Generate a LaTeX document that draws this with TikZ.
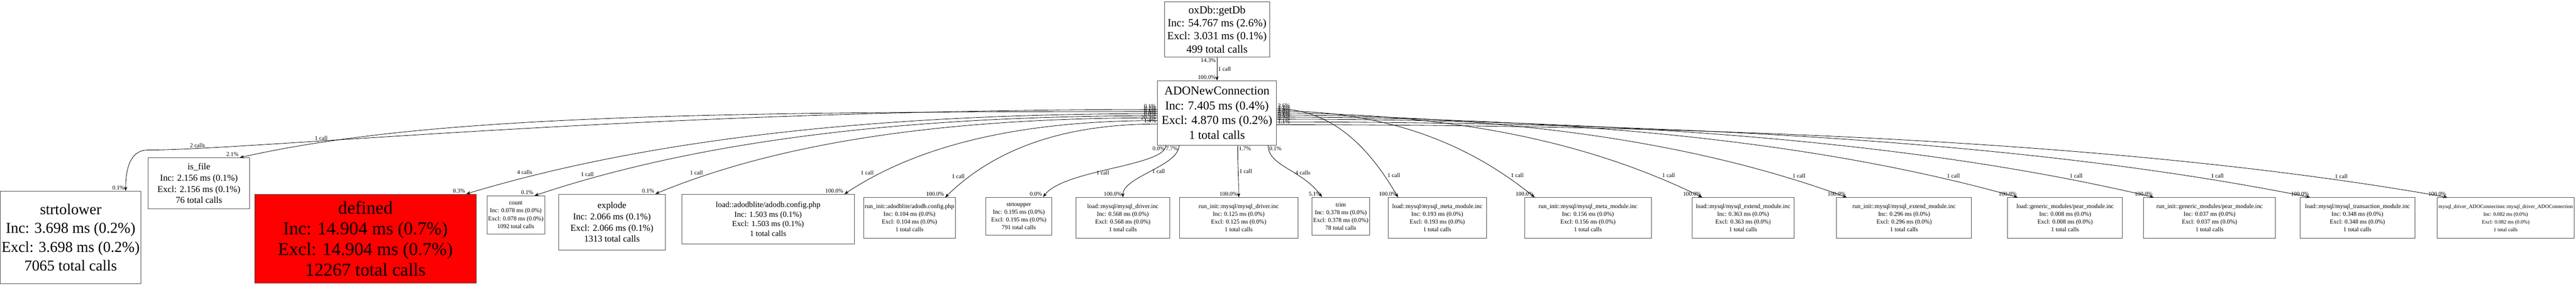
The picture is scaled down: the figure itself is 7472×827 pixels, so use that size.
\documentclass[tikz,border=0pt]{standalone}
\usepackage{fontspec}
\setmainfont{Liberation Serif}
\usetikzlibrary{positioning,calc,arrows.meta}

\begin{document}
\begin{tikzpicture}[x=0.01cm, y=-0.01cm,
    fn/.style = {draw=black!70, line width=0.4pt, align=center, inner sep=1pt},
    fnmain/.style = {fn, font=\fontsize{10}{12.2}\selectfont},
    fnbig/.style = {fn, font=\fontsize{12.5}{15.5}\selectfont},
    fnhot/.style = {fn, fill=red, font=\fontsize{15}{17}\selectfont},
    fnmid/.style = {fn, font=\fontsize{7.5}{9.2}\selectfont},
    fnsmall/.style = {fn, font=\fontsize{6.5}{8}\selectfont},
    fntiny/.style = {fn, font=\fontsize{5}{6.4}\selectfont},
    call/.style = {draw, line width=0.35pt, -{Stealth[length=3.5pt,width=2.6pt]}},
    lbl/.style = {font=\fontsize{4.8}{5.8}\selectfont, inner sep=0.8pt}]

	\useasboundingbox (0,0) rectangle (7472,827);

	% caller chain
	\node (getdb) [fn, font=\fontsize{9}{10.8}\selectfont, minimum width=3.05cm, minimum height=1.6cm] at (3530,85) {oxDb::getDb\\Inc: 54.767 ms (2.6\%)\\Excl: 3.031 ms (0.1\%)\\499 total calls};
	\node (ado) [fnmain, minimum width=3.45cm, minimum height=1.86cm] at (3530,327) {ADONewConnection\\Inc: 7.405 ms (0.4\%)\\Excl: 4.870 ms (0.2\%)\\1 total calls};

	% callees
	\node (strtolower) [fnbig, minimum width=4.05cm, minimum height=2.67cm] at (205,687) {strtolower\\Inc: 3.698 ms (0.2\%)\\Excl: 3.698 ms (0.2\%)\\7065 total calls};
	\node (isfile) [fnmid, minimum width=2.95cm, minimum height=1.48cm] at (577,531) {is\_file\\Inc: 2.156 ms (0.1\%)\\Excl: 2.156 ms (0.1\%)\\76 total calls};
	\node (defined) [fnhot, minimum width=6.43cm, minimum height=2.58cm] at (1060,691) {defined\\Inc: 14.904 ms (0.7\%)\\Excl: 14.904 ms (0.7\%)\\12267 total calls};
	\node (count) [fntiny, minimum width=1.52cm, minimum height=1.1cm] at (1496,622) {count\\Inc: 0.078 ms (0.0\%)\\Excl: 0.078 ms (0.0\%)\\1092 total calls};
	\node (explode) [fnmid, minimum width=3.1cm, minimum height=1.62cm] at (1775,643) {explode\\Inc: 2.066 ms (0.1\%)\\Excl: 2.066 ms (0.1\%)\\1313 total calls};
	\node (loadcfg) [fnsmall, minimum width=5.01cm, minimum height=1.43cm] at (2228,634) {load::adodblite/adodb.config.php\\Inc: 1.503 ms (0.1\%)\\Excl: 1.503 ms (0.1\%)\\1 total calls};
	\node (initcfg) [fntiny, minimum width=2.53cm, minimum height=1.18cm] at (2638,631) {run\_init::adodblite/adodb.config.php\\Inc: 0.104 ms (0.0\%)\\Excl: 0.104 ms (0.0\%)\\1 total calls};
	\node (strtoupper) [fntiny, minimum width=1.9cm, minimum height=1.1cm] at (2955,626) {strtoupper\\Inc: 0.195 ms (0.0\%)\\Excl: 0.195 ms (0.0\%)\\791 total calls};
	\node (loaddrv) [fntiny, minimum width=2.72cm, minimum height=1.18cm] at (3257,631) {load::mysql/mysql\_driver.inc\\Inc: 0.568 ms (0.0\%)\\Excl: 0.568 ms (0.0\%)\\1 total calls};
	\node (initdrv) [fntiny, minimum width=3.43cm, minimum height=1.18cm] at (3593,631) {run\_init::mysql/mysql\_driver.inc\\Inc: 0.125 ms (0.0\%)\\Excl: 0.125 ms (0.0\%)\\1 total calls};
	\node (trim) [fntiny, minimum width=1.53cm, minimum height=1.1cm] at (3889,626) {trim\\Inc: 0.378 ms (0.0\%)\\Excl: 0.378 ms (0.0\%)\\78 total calls};
	\node (loadmeta) [fntiny, minimum width=2.86cm, minimum height=1.18cm] at (4169,631) {load::mysql/mysql\_meta\_module.inc\\Inc: 0.193 ms (0.0\%)\\Excl: 0.193 ms (0.0\%)\\1 total calls};
	\node (initmeta) [fntiny, minimum width=3.67cm, minimum height=1.18cm] at (4606,631) {run\_init::mysql/mysql\_meta\_module.inc\\Inc: 0.156 ms (0.0\%)\\Excl: 0.156 ms (0.0\%)\\1 total calls};
	\node (loadext) [fntiny, minimum width=2.95cm, minimum height=1.18cm] at (5056,631) {load::mysql/mysql\_extend\_module.inc\\Inc: 0.363 ms (0.0\%)\\Excl: 0.363 ms (0.0\%)\\1 total calls};
	\node (initext) [fntiny, minimum width=3.91cm, minimum height=1.18cm] at (5523,631) {run\_init::mysql/mysql\_extend\_module.inc\\Inc: 0.296 ms (0.0\%)\\Excl: 0.296 ms (0.0\%)\\1 total calls};
	\node (loadgen) [fntiny, minimum width=3.33cm, minimum height=1.18cm] at (5990,631) {load::generic\_modules/pear\_module.inc\\Inc: 0.008 ms (0.0\%)\\Excl: 0.008 ms (0.0\%)\\1 total calls};
	\node (initgen) [fntiny, minimum width=3.82cm, minimum height=1.18cm] at (6409,631) {run\_init::generic\_modules/pear\_module.inc\\Inc: 0.037 ms (0.0\%)\\Excl: 0.037 ms (0.0\%)\\1 total calls};
	\node (loadtrans) [fntiny, minimum width=3.33cm, minimum height=1.18cm] at (6838,631) {load::mysql/mysql\_transaction\_module.inc\\Inc: 0.348 ms (0.0\%)\\Excl: 0.348 ms (0.0\%)\\1 total calls};
	\node (mysqlconn) [fntiny, font=\fontsize{4.3}{6.4}\selectfont, minimum width=3.62cm, minimum height=1.18cm] at (7268,631) {mysql\_driver\_ADOConnection::mysql\_driver\_ADOConnection\\Inc: 0.082 ms (0.0\%)\\Excl: 0.082 ms (0.0\%)\\1 total calls};

	% calls
	\draw[call] (getdb) -- (ado)
		node[lbl, at start, anchor=north east] {14.3\%}
		node[lbl, midway, right] {1 call}
		node[lbl, at end, anchor=south east] {100.0\%};

	% strtolower goes round is_file
	\coordinate (s) at ($(ado.west)+(0,-10)$);
	\coordinate (w) at ($(isfile.north west)+(0,-22)$);
	\coordinate (e) at ($(strtolower.north east)+(-45,0)$);
	\draw[call] (s) .. controls ($(s)!0.5!(s-|w)$) and ($(w)+(300,0)$) .. (w)
			node[lbl, pos=0.88, anchor=south] {2 calls}
			node[lbl, at start, anchor=south east] {0.1\%}
		.. controls ($(w)+(-55,0)$) and ($(e)+(0,-55)$) .. (e)
			node[lbl, at end, anchor=south east] {0.1\%};

	\foreach \c/\dy/\n/\t/\h in {isfile/-4/1 call/0.2\%/2.1\%,
	                             defined/2/4 calls/0.1\%/0.3\%,
	                             count/8/1 call/0.0\%/0.1\%,
	                             explode/14/1 call/0.0\%/0.1\%,
	                             loadcfg/22/1 call/20.3\%/100.0\%,
	                             initcfg/32/1 call/1.4\%/100.0\%}{
		\coordinate (s) at ($(ado.west)+(0,\dy)$);
		\coordinate (e) at ($(\c.north east)+(-30,0)$);
		\draw[call] (s) .. controls ($(s)!0.5!(s-|e)$) and ($(e)!0.2!(s|-e)+(0,-120)$) .. (e)
			node[lbl, pos=0.85, anchor=south east] {\n}
			node[lbl, at start, anchor=south east] {\t}
			node[lbl, at end, anchor=south east] {\h};
	}

	\foreach \c/\dy/\n/\t/\h in {loadmeta/-12/1 call/2.6\%/100.0\%,
	                             initmeta/-6/1 call/2.1\%/100.0\%,
	                             loadext/0/1 call/4.9\%/100.0\%,
	                             initext/6/1 call/4.0\%/100.0\%,
	                             loadgen/12/1 call/0.1\%/100.0\%,
	                             initgen/18/1 call/0.5\%/100.0\%,
	                             loadtrans/26/1 call/4.7\%/100.0\%,
	                             mysqlconn/34/1 call/1.1\%/100.0\%}{
		\coordinate (s) at ($(ado.east)+(0,\dy)$);
		\coordinate (e) at ($(\c.north west)+(30,0)$);
		\draw[call] (s) .. controls ($(s)!0.5!(s-|e)$) and ($(e)!0.2!(s|-e)+(0,-120)$) .. (e)
			node[lbl, pos=0.85, anchor=south west] {\n}
			node[lbl, at start, anchor=south west] {\t}
			node[lbl, at end, anchor=south east] {\h};
	}

	\draw[call] ($(ado.south west)+(25,0)$) .. controls +(0,60) and +(60,-80) .. ($(strtoupper.north east)+(-25,0)$)
		node[lbl, pos=0.6, right] {1 call}
		node[lbl, at start, anchor=north east] {0.0\%}
		node[lbl, at end, anchor=south east] {0.0\%};
	\draw[call] ($(ado.south)+(-110,0)$) .. controls +(0,60) and +(0,-60) .. (loaddrv.north)
		node[lbl, pos=0.5, right] {1 call}
		node[lbl, at start, anchor=north east] {7.7\%}
		node[lbl, at end, anchor=south east] {100.0\%};
	\draw[call] ($(ado.south)+(60,0)$) .. controls +(0,60) and +(0,-60) .. (initdrv.north)
		node[lbl, pos=0.5, right] {1 call}
		node[lbl, at start, anchor=north west] {1.7\%}
		node[lbl, at end, anchor=south east] {100.0\%};
	\draw[call] ($(ado.south east)+(-25,0)$) .. controls +(0,60) and +(-60,-80) .. ($(trim.north west)+(30,0)$)
		node[lbl, pos=0.6, right] {4 calls}
		node[lbl, at start, anchor=north west] {0.1\%}
		node[lbl, at end, anchor=south east] {5.1\%};

\end{tikzpicture}
\end{document}
